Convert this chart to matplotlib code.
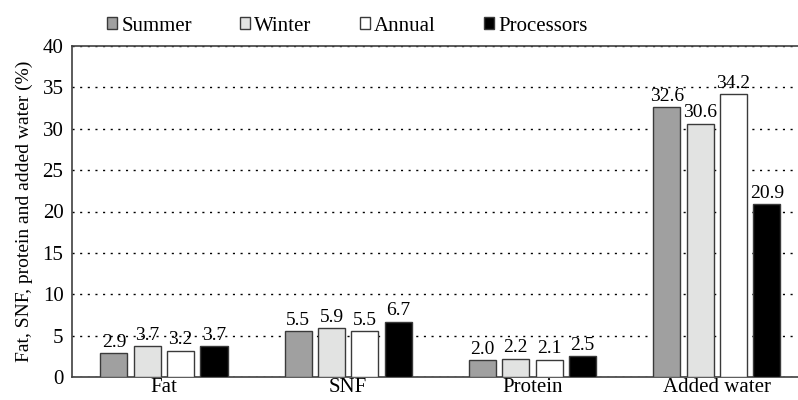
import numpy as np
import matplotlib
matplotlib.use('Agg')
import matplotlib.pyplot as plt
from matplotlib.patches import Patch

plt.rcParams['font.family'] = ['Liberation Serif', 'DejaVu Serif']

# data
categories = ['Fat', 'SNF', 'Protein', 'Added water']
series = ['Summer', 'Winter', 'Annual', 'Processors']
summer = [2.9, 5.5, 2.0, 32.6]
winter = [3.7, 5.9, 2.2, 30.6]
annual = [3.2, 5.5, 2.1, 34.2]
processors = [3.7, 6.7, 2.5, 20.9]
colors = ['#a0a0a0', '#e2e3e2', '#ffffff', '#000000']

fig = plt.figure(figsize=(7.98, 4.0), dpi=100)
# axes run a little past the right edge of the figure, as in the original
ax = fig.add_axes([0.09, 0.0575, 0.9236, 0.8275])

x = np.arange(len(categories))
width = 0.147
step = 0.181
values = [summer, winter, annual, processors]
for i, (vals, col) in enumerate(zip(values, colors)):
    pos = x + (i - 1.5) * step
    bars = ax.bar(pos, vals, width, color=col, edgecolor='#3a3a3a', linewidth=1.0, zorder=3)
    for b, v in zip(bars, vals):
        ax.text(b.get_x() + b.get_width() / 2, v + 0.3, f'{v:.1f}',
                ha='center', va='bottom', fontsize=14, zorder=4)

ax.set_xlim(-0.5, 3.5)
ax.set_ylim(0, 40)
ax.set_yticks(range(0, 41, 5))
ax.set_xticks(x)
ax.set_xticklabels(categories)
ax.tick_params(axis='both', length=0, labelsize=15)
ax.tick_params(axis='y', pad=6)
ax.tick_params(axis='x', pad=1)
ax.yaxis.grid(True, linestyle=(0, (1.5, 4)), color='black', linewidth=1.0, zorder=0)
ax.spines['right'].set_visible(False)
for s in ['left', 'bottom', 'top']:
    ax.spines[s].set_color('#404040')
    ax.spines[s].set_linewidth(1.2)
ax.set_ylabel('Fat, SNF, protein and added water (%)', fontsize=14, labelpad=7)

handles = [Patch(facecolor=c, edgecolor='#3a3a3a', linewidth=1.0) for c in colors]
ax.legend(handles, series, ncol=4, frameon=False, loc='lower left',
          bbox_to_anchor=(0.033, 1.0), fontsize=15, handlelength=0.5,
          handleheight=0.5, handletextpad=0.2, columnspacing=2.3,
          borderaxespad=0.1)

plt.savefig('out.png', dpi=100)
